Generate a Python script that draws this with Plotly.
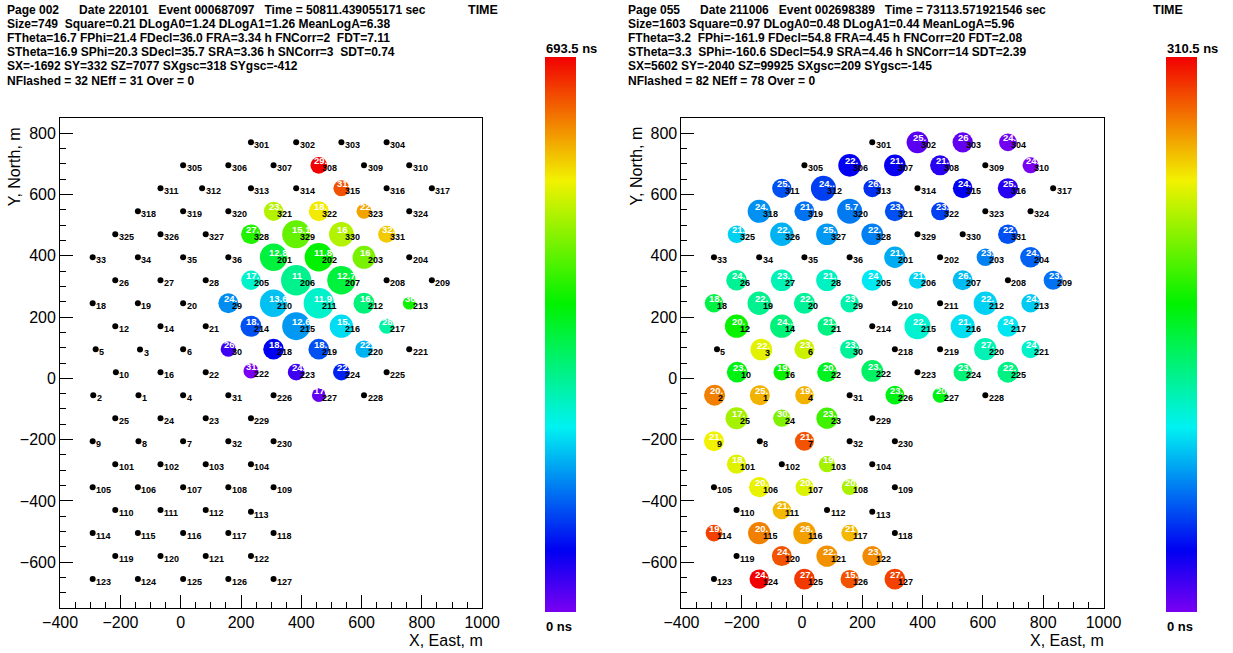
import colorsys
import plotly.graph_objects as go

W, H = 1233, 653
FONT = "Liberation Sans"

# ---- detector layout (metres) ----
det_id = [301, 302, 303, 304,
          305, 306, 307, 308, 309, 310,
          311, 312, 313, 314, 315, 316, 317,
          318, 319, 320, 321, 322, 323, 324,
          325, 326, 327, 328, 329, 330, 331,
          33, 34, 35, 36, 201, 202, 203, 204,
          26, 27, 28, 205, 206, 207, 208, 209,
          18, 19, 20, 29, 210, 211, 212, 213,
          12, 14, 21, 214, 215, 216, 217,
          5, 3, 6, 30, 218, 219, 220, 221,
          10, 16, 22, 222, 223, 224, 225,
          2, 1, 4, 31, 226, 227, 228,
          25, 24, 23, 229,
          9, 8, 7, 32, 230,
          101, 102, 103, 104,
          105, 106, 107, 108, 109,
          110, 111, 112, 113,
          114, 115, 116, 117, 118,
          119, 120, 121, 122,
          123, 124, 125, 126, 127]
det_x = [233, 383, 533, 683,
         8, 158, 308, 458, 608, 758,
         -67, 71, 233, 383, 533, 683, 833,
         -142, 8, 158, 308, 458, 608, 758,
         -217, -67, 83, 233, 383, 533, 683,
         -292, -142, 8, 158, 308, 458, 608, 758,
         -217, -67, 83, 233, 383, 533, 683, 833,
         -292, -142, 8, 158, 308, 458, 608, 758,
         -217, -67, 83, 233, 383, 533, 683,
         -282, -135, 8, 158, 308, 458, 608, 758,
         -215, -67, 83, 233, 383, 533, 683,
         -290, -140, 8, 158, 308, 458, 608,
         -217, -67, 83, 233,
         -292, -140, 8, 158, 308,
         -217, -67, 83, 233,
         -292, -142, 8, 158, 308,
         -217, -67, 83, 233,
         -292, -142, 8, 158, 308,
         -217, -67, 83, 233,
         -292, -142, 8, 158, 308]
det_y = [770, 770, 770, 770,
         695, 695, 695, 695, 695, 695,
         620, 620, 620, 620, 620, 620, 620,
         545, 545, 545, 545, 545, 545, 545,
         470, 470, 470, 470, 470, 470, 470,
         395, 395, 395, 395, 395, 395, 395, 395,
         320, 320, 320, 320, 320, 320, 320, 320,
         245, 245, 245, 245, 245, 245, 245, 245,
         170, 170, 170, 170, 170, 170, 170,
         95, 94, 95, 95, 95, 95, 95, 95,
         20, 20, 20, 24, 20, 20, 20,
         -55, -55, -55, -55, -55, -55, -55,
         -130, -130, -130, -130,
         -205, -205, -205, -205, -205,
         -280, -280, -280, -280,
         -355, -355, -355, -355, -355,
         -430, -430, -430, -435,
         -505, -505, -505, -505, -505,
         -580, -580, -580, -580,
         -655, -655, -655, -655, -655]

# ---- event 1: flashed detectors ----
ev1_id = [308, 315, 321, 322, 323, 328, 329, 330, 331,
          201, 202, 203, 205, 206, 207, 29, 210, 211, 212, 213,
          214, 215, 216, 217, 30, 218, 219, 220, 222, 223, 224, 227]
ev1_time = [693.5, 642, 500, 544, 590, 406, 449, 499, 565,
            347, 385, 462, 257, 295, 347, 167, 200, 257, 308, 397,
            128, 174, 218, 282, 38, 77, 128, 190, 0, 38, 98, 14]
ev1_amp = [16.7, 16, 19.3, 20, 15, 19.7, 28, 24.7, 17,
           27.3, 28.3, 23, 19.3, 30.3, 28.3, 20, 27.3, 30.3, 21, 12.7,
           21, 28, 23.3, 15, 15.3, 20.7, 20.7, 17.3, 15, 16.7, 16.7, 13.7]
ev1_text = ["29.", "31.", "23.", "18.", "22.", "27.", "15.1", "16", "32.",
            "12.8", "11.8", "16", "17.", "11", "12.7", "24.", "13.6", "11.9", "16.", "36.",
            "18.", "12.6", "15.", "28.", "26.", "18.", "18.", "22.", "31.", "24.", "22.", "17."]
ev1_tmax = 693.5

# ---- event 2: flashed detectors ----
ev2_id = [302, 303, 304, 306, 307, 308, 310,
          311, 312, 313, 315, 316,
          318, 319, 320, 321, 322,
          325, 326, 327, 328, 331,
          201, 203, 204,
          26, 27, 28, 205, 206, 207, 209,
          18, 19, 20, 29, 212, 213,
          12, 14, 21, 215, 216, 217,
          3, 6, 30, 220, 221,
          10, 16, 22, 222, 224, 225,
          2, 1, 4, 226, 227,
          25, 24, 23,
          9, 7,
          101, 103,
          106, 107, 108,
          111,
          114, 115, 116, 117,
          120, 121, 122,
          124, 125, 126, 127]
ev2_time = [9, 6, 2, 34, 32, 23, 0,
            57, 52, 48, 34, 23,
            76, 67, 69, 57, 52,
            94, 85, 78, 71, 57,
            83, 71, 62,
            130, 121, 117, 101, 95, 88, 67,
            153, 132, 129, 124, 94, 92,
            175, 138, 135, 113, 98, 100,
            237, 230, 129, 121, 115,
            167, 175, 163, 144, 138, 135,
            274, 260, 260, 167, 167,
            219, 209, 190,
            241, 287,
            236, 219,
            239, 235, 221,
            258,
            292, 274, 265, 258,
            287, 269, 271,
            310.5, 294, 287, 292]
ev2_amp = [21.7, 20.3, 17.7, 22.7, 21.7, 20, 16,
           19.3, 25, 17.7, 19.7, 20.3,
           23, 20, 25, 20, 18,
           17.7, 23.3, 21.7, 21.7, 19.7,
           21.3, 17.3, 20.7,
           20.7, 21.7, 21.7, 21, 17, 20, 19,
           18.3, 23.3, 21, 18.3, 23.3, 18.3,
           23.3, 23.3, 19, 26, 24, 21,
           21.7, 20, 19, 22.3, 18,
           20.7, 16.7, 19.7, 21.7, 18.3, 21,
           21, 20, 18.3, 18.7, 15,
           22, 17.3, 21.3,
           20, 19,
           19.3, 16.3,
           20.3, 17.7, 15.7,
           18.3,
           16.7, 22.3, 22.3, 16.7,
           20, 21.3, 20,
           19.3, 20.7, 18.3, 20.7]
ev2_text = ["25.", "26", "24.", "22.", "21.", "21.", "24.",
            "25.", "24..", "26.", "24.", "25.",
            "24.", "21.", "5.7", "23.", "23.",
            "21.", "22.", "25.", "22.", "22.",
            "21.", "23.", "24.",
            "24.", "23.", "21..", "24", "21.", "26.", "23.",
            "18.", "22.", "22.", "23", "22.", "24.",
            "20.", "24..", "21.", "22.", "21.", "24",
            "22.", "23.", "23.", "27.", "24",
            "23.", "19.", "20.", "23.", "23.", "22.",
            "20.", "25.", "19.", "23.", "20.",
            "17.", "30.", "23..",
            "21.", "21.",
            "18.", "19.",
            "20.", "20.", "20.",
            "21.",
            "19.", "20.", "26.", "21",
            "24.", "22..", "23.",
            "24.", "27.", "15.", "27."]
ev2_tmax = 310.5

ev1_header = ["Page 002      Date 220101   Event 000687097   Time = 50811.439055171 sec",
              "Size=749  Square=0.21 DLogA0=1.24 DLogA1=1.26 MeanLogA=6.38",
              "FTheta=16.7 FPhi=21.4 FDecl=36.0 FRA=3.34 h FNCorr=2  FDT=7.11",
              "STheta=16.9 SPhi=20.3 SDecl=35.7 SRA=3.36 h SNCorr=3  SDT=0.74",
              "SX=-1692 SY=332 SZ=7077 SXgsc=318 SYgsc=-412",
              "NFlashed = 32 NEff = 31 Over = 0"]
ev2_header = ["Page 055      Date 211006   Event 002698389   Time = 73113.571921546 sec",
              "Size=1603 Square=0.97 DLogA0=0.48 DLogA1=0.44 MeanLogA=5.96",
              "FTheta=3.2  FPhi=-161.9 FDecl=54.8 FRA=4.45 h FNCorr=20 FDT=2.08",
              "STheta=3.3  SPhi=-160.6 SDecl=54.9 SRA=4.46 h SNCorr=14 SDT=2.39",
              "SX=5602 SY=-2040 SZ=99925 SXgsc=209 SYgsc=-145",
              "NFlashed = 82 NEff = 78 Over = 0"]

X_RANGE = [-400, 1000]
Y_RANGE = [-750, 850]


def rainbow(n=72, val=0.95):
    stops = []
    for i in range(n + 1):
        f = i / n
        r, g, b = colorsys.hsv_to_rgb(270.0 * (1 - f) / 360.0, 1.0, val)
        stops.append([f, "rgb(%d,%d,%d)" % (round(r * 255), round(g * 255), round(b * 255))])
    return stops


def nb(s):
    return s.replace(" ", "\u00a0")


def px_x(p):
    return p / W


def px_y(p):
    return 1 - p / H


def text_ann(x, y, text, size=13, color="black", bold=True, xanchor="left",
             yanchor="middle", xref="paper", yref="paper", dx=0, dy=0, angle=0):
    return dict(x=x, y=y, xref=xref, yref=yref, text=text, showarrow=False,
                xanchor=xanchor, yanchor=yanchor, xshift=dx, yshift=dy,
                textangle=angle, borderpad=0, borderwidth=0,
                font=dict(family=FONT, size=size, color=color,
                          weight="bold" if bold else "normal"))


fig = go.Figure()
annotations = []
scale = rainbow()

panels = [
    dict(ids=ev1_id, t=ev1_time, amp=ev1_amp, txt=ev1_text, tmax=ev1_tmax,
         header=ev1_header, xa="x", ya="y", ca="coloraxis",
         px0=180.7, cbx=545, timex=468),
    dict(ids=ev2_id, t=ev2_time, amp=ev2_amp, txt=ev2_text, tmax=ev2_tmax,
         header=ev2_header, xa="x2", ya="y2", ca="coloraxis2",
         px0=802.0, cbx=1166, timex=1153),
]

pos = {d: (x, y) for d, x, y in zip(det_id, det_x, det_y)}

for p in panels:
    # every detector as a small black dot
    fig.add_trace(go.Scatter(x=det_x, y=det_y, mode="markers", xaxis=p["xa"], yaxis=p["ya"],
                             marker=dict(color="black", size=6), hoverinfo="skip",
                             showlegend=False))
    hx = [pos[d][0] for d in p["ids"]]
    hy = [pos[d][1] for d in p["ids"]]
    fig.add_trace(go.Scatter(x=hx, y=hy, mode="markers", xaxis=p["xa"], yaxis=p["ya"],
                             marker=dict(color=p["t"], coloraxis=p["ca"], size=p["amp"],
                                         line=dict(width=0), opacity=1),
                             hoverinfo="skip", showlegend=False))
    # white value labels on flashed detectors
    for d, s in zip(p["ids"], p["txt"]):
        annotations.append(text_ann(pos[d][0], pos[d][1], s, size=9.5, color="white",
                                    xref=p["xa"], yref=p["ya"], dx=-4.5, dy=4.5))
    # detector numbers
    for d in det_id:
        annotations.append(text_ann(pos[d][0], pos[d][1], str(d), size=9, color="black",
                                    xref=p["xa"], yref=p["ya"], dx=3.5, dy=-3.0))
    # header block
    x0 = p["px0"] - 174
    for i, line in enumerate(p["header"]):
        annotations.append(text_ann(px_x(x0), px_y(9.5 + 14.2 * i), nb(line), size=12))
    annotations.append(text_ann(px_x(p["timex"]), px_y(9.5), "TIME", size=12.5))
    annotations.append(text_ann(px_x(p["cbx"] + 1), px_y(48), "%.1f ns" % p["tmax"], size=13))
    annotations.append(text_ann(px_x(p["cbx"] + 1), px_y(626), "0 ns", size=13))
    # axis titles
    annotations.append(text_ann(px_x(p["px0"] + 302), px_y(640), "X, East, m", size=16,
                                bold=False, xanchor="right"))
    annotations.append(text_ann(px_x(p["px0"] - 166), px_y(127), "Y, North, m", size=16,
                                bold=False, xanchor="center", yanchor="top", angle=-90))

axis_common = dict(showgrid=False, zeroline=False, showline=True, linecolor="black",
                   linewidth=1, mirror=True, ticks="inside", ticklen=13, tickwidth=1,
                   tickcolor="black", dtick=200, automargin=False,
                   tickfont=dict(family=FONT, size=16, color="black"),
                   minor=dict(dtick=50, ticks="inside", ticklen=6, tickcolor="black",
                              showgrid=False))

y0 = px_y(608.2)
y1 = px_y(117.8)
cb_common = dict(thickness=31, thicknessmode="pixels", len=555, lenmode="pixels",
                 y=px_y(57), yanchor="top", xanchor="left", xpad=0, ypad=0,
                 outlinewidth=0, showticklabels=False, ticks="")

fig.update_layout(
    width=W, height=H, margin=dict(l=0, r=0, t=0, b=0, autoexpand=False),
    paper_bgcolor="white", plot_bgcolor="white", showlegend=False,
    xaxis=dict(domain=[px_x(60.1), px_x(482.2)], range=X_RANGE, anchor="y", **axis_common),
    yaxis=dict(domain=[y0, y1], range=Y_RANGE, anchor="x", **axis_common),
    xaxis2=dict(domain=[px_x(681.4), px_x(1103.5)], range=X_RANGE, anchor="y2", **axis_common),
    yaxis2=dict(domain=[y0, y1], range=Y_RANGE, anchor="x2", **axis_common),
    coloraxis=dict(colorscale=scale, cmin=0, cmax=ev1_tmax,
                   colorbar=dict(x=px_x(545), **cb_common)),
    coloraxis2=dict(colorscale=scale, cmin=0, cmax=ev2_tmax,
                    colorbar=dict(x=px_x(1166), **cb_common)),
    annotations=annotations,
)

fig.write_html("out.html")
